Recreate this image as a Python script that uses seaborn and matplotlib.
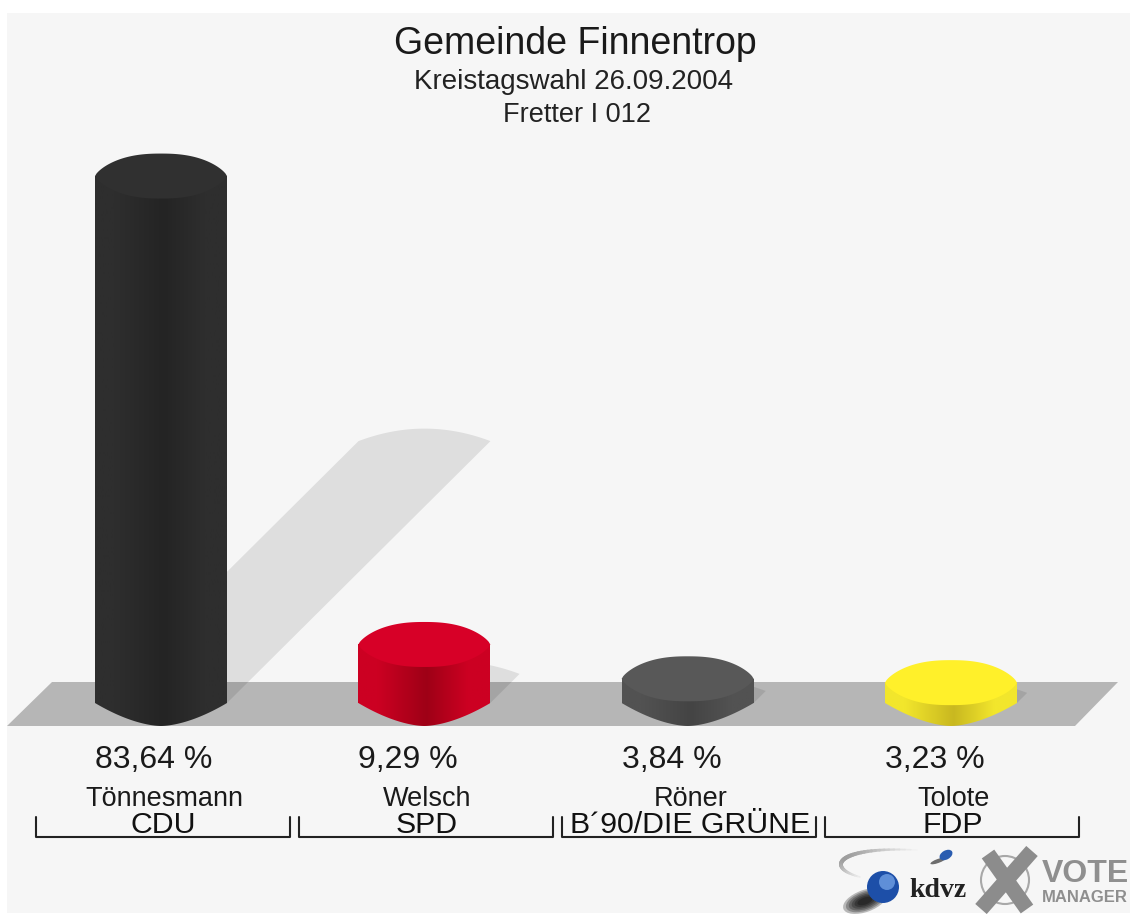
import numpy as np
import pandas as pd
import seaborn as sns
import matplotlib.pyplot as plt
from matplotlib.colors import LinearSegmentedColormap
from matplotlib.patches import Polygon, Circle, Ellipse, PathPatch, Rectangle
from matplotlib.path import Path

# Daten
kandidaten = ["Tönnesmann", "Welsch", "Röner", "Tolote"]
parteien = ["CDU", "SPD", "B´90/DIE GRÜNE", "FDP"]
anteile = [83.64, 9.29, 3.84, 3.23]
labels = ["83,64 %", "9,29 %", "3,84 %", "3,23 %"]

# Farben: Seite, Mitte (dunkel), Deckel
seite = ["#2e2e2e", "#cc0022", "#525252", "#f2e62c"]
mitte = ["#242424", "#9e0016", "#444444", "#c9b820"]
deckel = ["#303030", "#d70027", "#585858", "#fff02a"]

W, H = 1130, 914
PX_KAT = 263.33   # Pixel pro Kategorie
PX_PROZ = 6.3     # Pixel pro Prozentpunkt
X0, Y0 = 161, 703 # Pixelposition von Kategorie 0 / Wert 0

sns.set_style("white")
plt.rcParams["font.family"] = ["Liberation Sans", "DejaVu Sans"]

fig = plt.figure(figsize=(W / 100, H / 100), dpi=100, facecolor="white")

# Hintergrund + Boden + Logo in Pixelkoordinaten
bg = fig.add_axes([0, 0, 1, 1], zorder=0)
bg.set_xlim(0, W)
bg.set_ylim(H, 0)
bg.axis("off")
bg.add_patch(Rectangle((7, 13), W, H - 14, color="#f6f6f6", lw=0))
bg.add_patch(Polygon([(7, 726), (52, 682), (1118, 682), (1075, 726)], color="#b6b6b6", lw=0))

# Logo kdvz
t = np.linspace(0, 1, 40)
bx = 917 * (1 - t) ** 3 + 835 * 3 * t * (1 - t) ** 2 + 825 * 3 * t ** 2 * (1 - t) + 860 * t ** 3
by = 850 * (1 - t) ** 3 + 846 * 3 * t * (1 - t) ** 2 + 868 * 3 * t ** 2 * (1 - t) + 877 * t ** 3
for i in range(len(t) - 1):
    g = 0.95 - 0.33 * np.sin(np.pi * t[i])
    bg.plot(bx[i:i + 2], by[i:i + 2], color=(g, g, g), lw=1 + 2 * np.sin(np.pi * t[i]))
bg.add_patch(Ellipse((938, 861), 16, 4, angle=-20, color="#333333", alpha=0.7, lw=0))
bg.add_patch(Ellipse((946, 855), 14, 9, angle=-30, color="#2a5cb0", lw=0))
for k in range(6):
    bg.add_patch(Ellipse((865, 901), 46 - 6 * k, 22 - 3 * k, angle=-20, color="black", alpha=0.25, lw=0))
bg.add_patch(Circle((883, 887), 16, color="#1d4fa8", lw=0))
bg.add_patch(Circle((887, 882), 8, color="#5f8fd8", lw=0))
bg.text(909, 897, "kdvz", family="Liberation Serif", fontweight="bold", fontsize=20, color="#222222", va="baseline")
bg.add_patch(Circle((1005, 880), 24, fill=False, ec="#a8a8a8", lw=1.5))
bg.plot([981, 1032], [909, 851], color="#8c8c8c", lw=11, solid_capstyle="butt")
bg.plot([988, 1027], [854, 909], color="#8c8c8c", lw=11, solid_capstyle="butt")
bg.text(1042, 882, "VOTE", fontweight="bold", fontsize=23, color="#8f8f8f", va="baseline")
bg.text(1042, 902, "MANAGER", fontweight="bold", fontsize=12, color="#8f8f8f", va="baseline")

# Hauptachse: Skalen so, dass die Saeulen auf den Pixeln der Vorlage stehen
ax = fig.add_axes([0, 0, 1, 1], zorder=1)
df = pd.DataFrame({"kandidat": kandidaten, "anteil": anteile})
sns.barplot(data=df, x="kandidat", y="anteil", hue="kandidat", palette=seite, saturation=1,
            legend=False, width=132 / PX_KAT, ax=ax, zorder=3, edgecolor="none", linewidth=0)
xlim = ((0 - X0) / PX_KAT, (W - X0) / PX_KAT)
ylim = ((Y0 - H) / PX_PROZ, Y0 / PX_PROZ)

d_unten = 23 / PX_PROZ   # Woelbung Boden
d_oben = 22.5 / PX_PROZ  # Halbachse Deckel
u = np.linspace(-1, 1, 81)

for i, balken in enumerate(ax.patches[:4]):
    x1 = balken.get_x()
    b = balken.get_width()
    h = balken.get_height()
    xs = x1 + (u + 1) / 2 * b

    # Schatten, nach rechts oben geschert
    dx = 0.5 * h * PX_PROZ / PX_KAT
    dy = 0.497 * h
    bogen = (1 - u ** 2) * 12.5 / PX_PROZ
    schatten = list(zip(xs + dx, dy + bogen)) + [(x1 + b, 0), (x1, 0)]
    ax.add_patch(Polygon(schatten, color="black", alpha=0.095, lw=0, zorder=2))

    # Koerper mit Verlauf
    unten = -d_unten * (1 - np.abs(u) ** 1.7)
    umriss = [(x1, h)] + list(zip(xs, unten)) + [(x1 + b, h), (x1, h)]
    cmap = LinearSegmentedColormap.from_list("s", [(0, seite[i]), (0.15, seite[i]), (0.52, mitte[i]), (0.83, seite[i]), (1, seite[i])])
    im = ax.imshow(np.linspace(0, 1, 256)[None, :], cmap=cmap, aspect="auto", zorder=4,
                   extent=(x1, x1 + b, -d_unten, h), interpolation="bilinear")
    im.set_clip_path(Path(umriss), transform=ax.transData)

    # Deckel
    rand = d_oben * (1 - np.abs(u) ** 2.4) ** 0.75
    deck = list(zip(xs, h + rand)) + list(zip(xs[::-1], h - rand[::-1]))
    ax.add_patch(PathPatch(Path(deck), fc=deckel[i], ec="none", zorder=5))

    # Beschriftung
    ax.text(x1, (Y0 - 768) / PX_PROZ, labels[i], fontsize=23, color="#1a1a1a", ha="left", va="baseline")
    ax.text(i + 3 / PX_KAT, (Y0 - 806) / PX_PROZ, kandidaten[i], fontsize=19.5, color="#1a1a1a", ha="center", va="baseline")
    ax.text(i + 2 / PX_KAT, (Y0 - 833) / PX_PROZ, parteien[i], fontsize=21.8, color="#111111", ha="center", va="baseline")

    # Klammer
    r = 127 / PX_KAT
    m = i + 1.5 / PX_KAT
    oben_k, unten_k = (Y0 - 817) / PX_PROZ, (Y0 - 837) / PX_PROZ
    ax.plot([m - r, m - r, m + r, m + r], [oben_k, unten_k, unten_k, oben_k], color="#222222", lw=1.5, zorder=3)

ax.set_xlim(xlim)
ax.set_ylim(ylim)
ax.axis("off")

# Titel
fig.text(575 / W, 1 - 54 / H, "Gemeinde Finnentrop", fontsize=27, color="#1a1a1a", ha="center", va="baseline")
fig.text(574 / W, 1 - 89 / H, "Kreistagswahl 26.09.2004", fontsize=20, color="#222222", ha="center", va="baseline")
fig.text(577 / W, 1 - 122 / H, "Fretter I 012", fontsize=19.5, color="#222222", ha="center", va="baseline")

fig.savefig("out.png", dpi=100, facecolor="white")
